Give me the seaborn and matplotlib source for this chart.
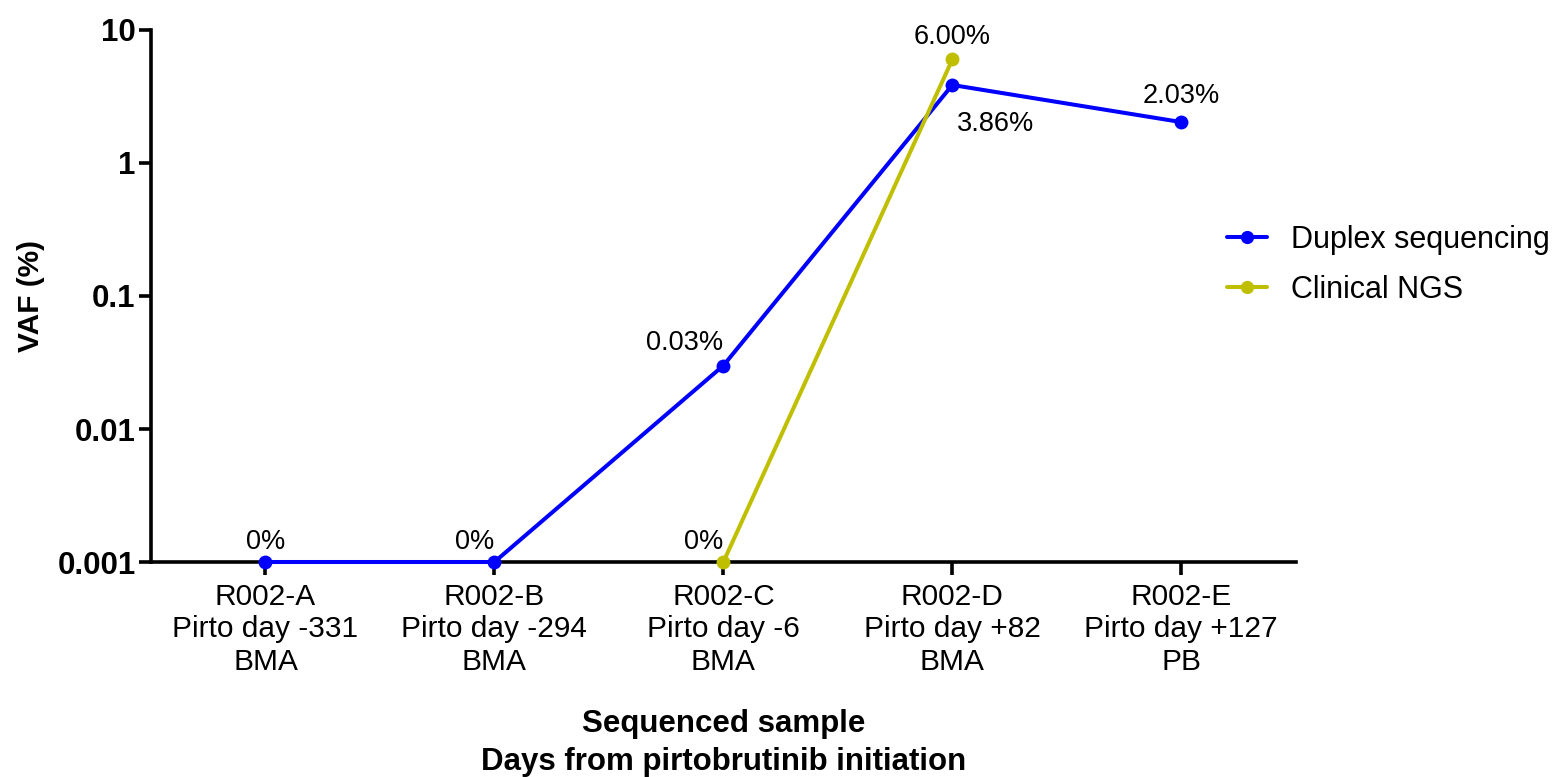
import numpy as np
import pandas as pd
import matplotlib
matplotlib.use("Agg")
import matplotlib.pyplot as plt
import seaborn as sns
from matplotlib.lines import Line2D

samples = ["R002-A\nPirto day -331\nBMA", "R002-B\nPirto day -294\nBMA",
           "R002-C\nPirto day -6\nBMA", "R002-D\nPirto day +82\nBMA",
           "R002-E\nPirto day +127\nPB"]
duplex = [0.001, 0.001, 0.03, 3.86, 2.03]
clinical = [np.nan, np.nan, 0.001, 6.00, np.nan]
duplex_labels = ["0%", "0%", "0.03%", "3.86%", "2.03%"]
clinical_labels = [None, None, "0%", "6.00%", None]
series_names = ["Duplex sequencing", "Clinical NGS"]
colors = ["#0000FF", "#BFBF00"]
yticks = [0.001, 0.01, 0.1, 1, 10]
ytick_labels = ["0.001", "0.01", "0.1", "1", "10"]

sns.set_theme(style="ticks", rc={"text.color": "black", "axes.labelcolor": "black",
                                 "xtick.color": "black", "ytick.color": "black",
                                 "axes.edgecolor": "black"})
plt.rcParams['font.family'] = ['Liberation Sans', 'DejaVu Sans']

df = pd.DataFrame({
    "x": list(range(len(samples))) * 2,
    "VAF": duplex + clinical,
    "series": [series_names[0]] * len(samples) + [series_names[1]] * len(samples),
}).dropna()

fig = plt.figure(figsize=(15.58, 7.77), dpi=100)
ax = fig.add_axes([0.0969, 0.2767, 0.8317 - 0.0969, 0.9614 - 0.2767])

sns.lineplot(data=df, x="x", y="VAF", hue="series", palette=dict(zip(series_names, colors)),
             marker="o", markersize=10, markeredgewidth=0, linewidth=2.9, ax=ax,
             estimator=None, sort=False, legend=False)
for ln in ax.lines:
    ln.set_clip_on(False)
    ln.set_zorder(3)

ax.set_yscale("log")
ax.set_ylim(0.001, 10)
ax.set_xlim(-0.5, len(samples) - 0.5)
ax.set_yticks(yticks)
ax.set_yticklabels(ytick_labels, fontweight="bold", fontsize=22.5)
ax.minorticks_off()
ax.set_xticks(range(len(samples)))
ax.set_xticklabels(samples, fontsize=21.5, linespacing=1.2)
ax.tick_params(axis="both", width=2.6, length=9)
ax.tick_params(axis="x", pad=6)
ax.tick_params(axis="y", pad=2)
for s in ["top", "right"]:
    ax.spines[s].set_visible(False)
for s in ["left", "bottom"]:
    ax.spines[s].set_linewidth(2.6)
    ax.spines[s].set_zorder(1)

ax.set_ylabel("VAF (%)", fontsize=21.5, fontweight="bold", labelpad=9)
ax.set_xlabel("Sequenced sample\nDays from pirtobrutinib initiation", fontsize=22.5,
              fontweight="bold", labelpad=24, linespacing=1.35)

# annotations (offsets in points, text centred)
offsets_d = [(0, 14.4), (-14.4, 14.4), (-28, 16.5), (31, -28), (0, 18.7)]
for i, (v, lab) in enumerate(zip(duplex, duplex_labels)):
    if lab:
        ax.annotate(lab, (i, v), xytext=offsets_d[i], textcoords="offset points",
                    ha="center", va="center", fontsize=19.5, annotation_clip=False)
offsets_c = [None, None, (-14.4, 14.4), (0, 16.5), None]
for i, (v, lab) in enumerate(zip(clinical, clinical_labels)):
    if lab:
        ax.annotate(lab, (i, v), xytext=offsets_c[i], textcoords="offset points",
                    ha="center", va="center", fontsize=19.5, annotation_clip=False)

handles = [Line2D([0], [0], color=c, marker="o", markersize=9.5, markeredgewidth=0, linewidth=2.9)
           for c in colors]
fig.legend(handles, series_names, loc="center left", bbox_to_anchor=(0.770, 0.659),
           frameon=False, fontsize=22, handlelength=1.3, handletextpad=0.8, labelspacing=0.65)

fig.savefig("out.png", dpi=100)
